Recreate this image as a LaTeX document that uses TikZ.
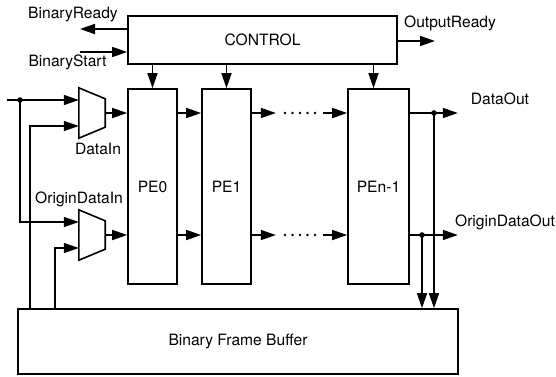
\documentclass[tikz,border=0pt]{standalone}
\usepackage{fontspec}
\setmainfont{TeX Gyre Heros}
\usetikzlibrary{arrows.meta}

\begin{document}
\begin{tikzpicture}[
  x=1pt, y=-1pt,
  every node/.style={font=\fontsize{15.6}{18}\selectfont, inner sep=0pt},
  wire/.style={line width=1.6pt},
  blockbox/.style={draw, line width=1.7pt, minimum height=#1},
  muxnode/.style={minimum width=26pt, minimum height=50pt},
  >={Triangle[length=15pt,width=10pt]}
]
\useasboundingbox (0,0) rectangle (556,376);

% Control
\node[blockbox=48pt, minimum width=269pt] (ctrl) at (262.5,40) {CONTROL};

% PEs
\node[blockbox=195pt, minimum width=49pt] (PE0) at (152.5,186.5) {PE0};
\node[blockbox=195pt, minimum width=49pt] (PE1) at (226.5,186.5) {PE1};
\node[blockbox=195pt, minimum width=61pt] (PEn) at (378.5,186.5) {PEn-1};

% Buffer
\node[blockbox=65pt, minimum width=440pt] (buf) at (238,341.5) {Binary Frame Buffer};

% Muxes
\node[muxnode] (muxA) at (92,113) {};
\node[muxnode] (muxB) at (92,235) {};
\foreach \m in {muxA,muxB}
  \draw[wire] (\m.north west) -- ([yshift=-11pt]\m.north east)
    -- ([yshift=11pt]\m.south east) -- (\m.south west) -- cycle;

% Control signals
\coordinate (rdy) at (80,29);
\coordinate (start) at (80,52);
\coordinate (outrdy) at (435,41);
\draw[wire,->] (ctrl.west |- rdy) -- (rdy);
\draw[wire,->] (start) -- (ctrl.west |- start);
\draw[wire,->] (ctrl.east |- outrdy) -- (outrdy);
\draw[wire,->] (ctrl.south -| PE0.north) -- (PE0.north);
\draw[wire,->] (ctrl.south -| PE1.north) -- (PE1.north);
\coordinate (enIn) at ([xshift=-5pt]PEn.north);
\draw[wire,->] (enIn |- ctrl.south) -- (enIn);

% Inputs
\coordinate (inA) at (7,100);
\coordinate (split) at (20,100);
\draw[wire,->] (inA) -- ([yshift=13pt]muxA.west);
\fill (split) circle (2.8pt);
\draw[wire,->] (split) |- ([yshift=13pt]muxB.west);
\draw[wire,->] ([xshift=13pt]buf.north west) |- ([yshift=-13pt]muxA.west);
\draw[wire,->] ([xshift=38pt]buf.north west) |- ([yshift=-13pt]muxB.west);

% Data paths
\foreach \m in {muxA,muxB} {
  \draw[wire,->] (\m.east) -- (PE0.west |- \m.east);
  \draw[wire,->] (PE0.east |- \m.east) -- (PE1.west |- \m.east);
  \draw[wire,->] (PE1.east |- \m.east) -- ++(24,0);
  \foreach \i in {0,...,4}
    \fill ([xshift=285pt+7.5pt*\i]0,0 |- \m.east) circle (1.3pt);
  \coordinate (gap) at (323,0 |- \m.east);
  \draw[wire,->] (gap) -- (PEn.west |- \m.east);
  \draw[wire,->] (PEn.east |- \m.east) -- ++(48,0);
}

% Outputs to buffer
\coordinate (tapA) at (434,113);
\coordinate (tapB) at (422,235);
\fill (tapA) circle (2.8pt);
\fill (tapB) circle (2.8pt);
\draw[wire,->] (tapA) -- (tapA |- buf.north);
\draw[wire,->] (tapB) -- (tapB |- buf.north);

% Labels
\node (lblRdy) at (73,15) {BinaryReady};
\node (lblStart) at (67.5,62) {BinaryStart};
\node (lblOut) at (450,23) {OutputReady};
\node (lblIn) at (98,149) {DataIn};
\node (lblOrig) at (79,199) {OriginDataIn};
\node (lblDOut) at (500,99) {DataOut};
\node (lblODOut) at (505,222) {OriginDataOut};
\end{tikzpicture}
\end{document}
